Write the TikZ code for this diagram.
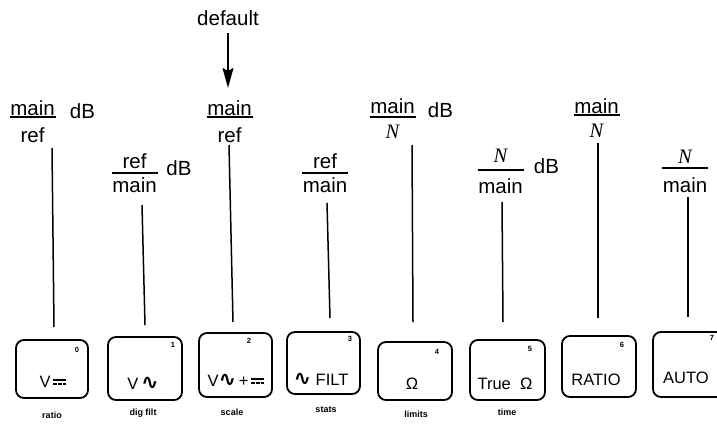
\documentclass[tikz,border=0pt]{standalone}
\usepackage{fontspec}
\setmainfont{Liberation Sans}
\newfontfamily\serifN{Liberation Serif}
\newfontfamily\djv{DejaVu Sans}
\usetikzlibrary{arrows.meta}
\newcommand\sinew{{\djv\bfseries\fontsize{21}{21}\selectfont ∿}}
\newcommand\dcsym{\mbox{\raisebox{6.5pt}{\rlap{\rule{13pt}{1.4pt}}}\raisebox{2.5pt}{\rule{3.4pt}{1.4pt}\hspace{1.4pt}\rule{3.4pt}{1.4pt}\hspace{1.4pt}\rule{3.4pt}{1.4pt}}}}
\newcommand\NN{{\serifN\itshape N}}
\begin{document}
\begin{tikzpicture}[x=1pt,y=-1pt,
  lbl/.style={font=\fontsize{20.5}{24}\selectfont, inner sep=0pt, anchor=base},
  fbar/.style={line width=1.2pt},
  vline/.style={line width=1.5pt},
  key/.style={draw, line width=1.8pt, rounded corners=8pt},
  keytxt/.style={font=\fontsize{16.5}{19}\selectfont, inner sep=0pt, anchor=base},
  keynum/.style={font=\bfseries\fontsize{7.5}{8}\selectfont, inner sep=0pt},
  under/.style={font=\bfseries\fontsize{9}{10}\selectfont, inner sep=0pt},
  arrowst/.style={line width=1.6pt, -{Stealth[length=20pt,width=11pt,inset=3pt]}}
]
\useasboundingbox (0,0) rectangle (717,423);

% fractions: numerator and denominator nodes, bar drawn below
\newcommand\fracnode[6]{%
  \node[lbl] (#1n) at (#2,#3) {#5};
  \node[lbl] (#1d) at (#2,#4) {#6};
}
\fracnode{f0}{32.5}{115}{142}{main}{ref}
\draw[fbar] (9.5,117) -- (55.5,117);
\fracnode{f1}{134.5}{168}{192}{ref}{main}
\draw[fbar] (111.5,173) -- (157.5,173);
\fracnode{f2}{229.5}{115}{142}{main}{ref}
\draw[fbar] (206.5,117) -- (252.5,117);
\fracnode{f3}{325}{168}{192}{ref}{main}
\draw[fbar] (302,173) -- (348,173);
\fracnode{f4}{392.5}{113}{138}{main}{\NN}
\draw[fbar] (369.5,117) -- (415.5,117);
\fracnode{f5}{500.5}{162}{193}{\NN}{main}
\draw[fbar] (477.5,170) -- (523.5,170);
\fracnode{f6}{596.5}{113}{137}{main}{\NN}
\draw[fbar] (573.5,115) -- (619.5,115);
\fracnode{f7}{685}{163}{192}{\NN}{main}
\draw[fbar] (662,168) -- (708,168);

% dB labels
\node[lbl] (db0) at (82.5,118) {dB};
\node[lbl] (db1) at (179,175) {dB};
\node[lbl] (db4) at (440.5,117) {dB};
\node[lbl] (db5) at (546.5,173) {dB};

% default arrow
\node[lbl] (def) at (228,25) {default};
\draw[arrowst, shorten <=8pt, shorten >=12pt] (def.south) -- (def.south |- f2n.north);

% keys
\node[key, minimum width=72pt, minimum height=58pt] (k0) at (52,369) {};
\node[key, minimum width=74pt, minimum height=63pt] (k1) at (145,368.5) {};
\node[key, minimum width=73pt, minimum height=64pt] (k2) at (235.5,365) {};
\node[key, minimum width=73pt, minimum height=62pt] (k3) at (323.5,363) {};
\node[key, minimum width=74pt, minimum height=58pt] (k4) at (415,371) {};
\node[key, minimum width=75pt, minimum height=60pt] (k5) at (507.5,370) {};
\node[key, minimum width=74pt, minimum height=61pt] (k6) at (599,366.5) {};
\node[key, minimum width=73pt, minimum height=65pt] (k7) at (689.5,364.5) {};

% key texts
\node[keytxt] (k0t) at (53,387) {V\,\dcsym};
\node[keytxt] (k1t) at (143,389) {V\,\sinew};
\node[keytxt] (k2t) at (236,386) {V\sinew\,+\,\dcsym};
\node[keytxt] (k3t) at (321,385) {\sinew\ FILT};
\node[keytxt] (k4t) at (412,389) {Ω};
\node[keytxt] (k5t) at (505,389) {True\ \ Ω};
\node[keytxt] (k6t) at (596,385) {RATIO};
\node[keytxt] (k7t) at (686,383) {AUTO};

% key digits
\node[keynum] (k0n) at (77,350) {0};
\node[keynum] (k1n) at (173,345) {1};
\node[keynum] (k2n) at (249,341) {2};
\node[keynum] (k3n) at (350,339) {3};
\node[keynum] (k4n) at (437,352) {4};
\node[keynum] (k5n) at (530,349) {5};
\node[keynum] (k6n) at (622,345) {6};
\node[keynum] (k7n) at (712,338) {7};

% labels under keys
\node[under] (u0) at (52,415) {ratio};
\node[under] (u1) at (143,413) {dig filt};
\node[under] (u2) at (232,412) {scale};
\node[under] (u3) at (326,410) {stats};
\node[under] (u4) at (416,414) {limits};
\node[under] (u5) at (507,412) {time};

% vertical lines
\coordinate (l0t) at (52,148);  \coordinate (l0b) at (54,327);
\coordinate (l1t) at (142,205); \coordinate (l1b) at (145,325);
\coordinate (l2t) at (229,145); \coordinate (l2b) at (233,322);
\coordinate (l3t) at (327,203); \coordinate (l3b) at (330,318);
\coordinate (l4t) at (412,145); \coordinate (l4b) at (413,322);
\coordinate (l5t) at (502,202); \coordinate (l5b) at (503,322);
\coordinate (l6t) at (598,143); \coordinate (l6b) at (598,318);
\coordinate (l7t) at (688,197); \coordinate (l7b) at (688,317);
\foreach \i in {0,...,7} { \draw[vline] (l\i t) -- (l\i b); }
\end{tikzpicture}
\end{document}
